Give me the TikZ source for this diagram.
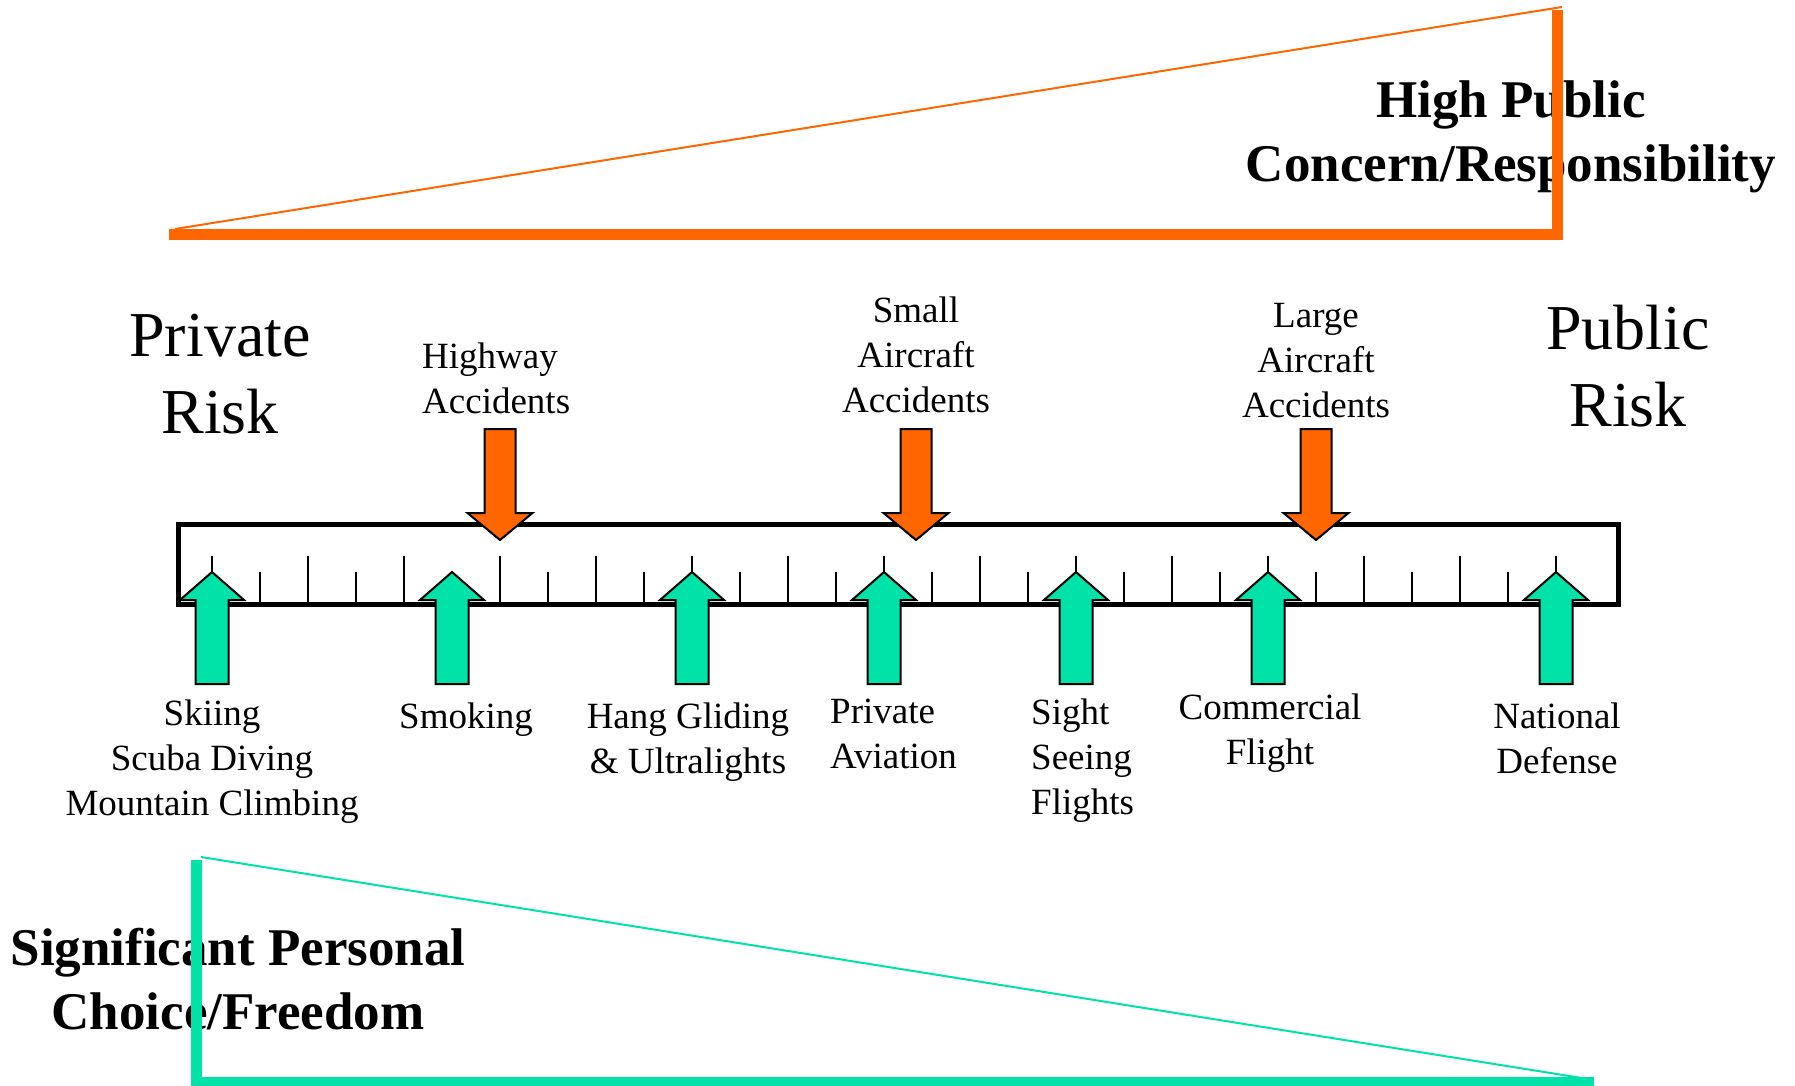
\documentclass[tikz,border=0pt]{standalone}
\usepackage{fontspec}
\setmainfont{Liberation Serif}
\usepackage{xcolor}
\usepackage{tikz}
\usetikzlibrary{positioning}
\definecolor{riskorange}{RGB}{255,102,0}
\definecolor{riskteal}{RGB}{0,226,168}

\begin{document}
\begin{tikzpicture}[x=1pt,y=-1pt,
  lbl/.style={inner sep=0pt,align=#1,font=\fontsize{37}{45}\selectfont}, lbl/.default=center,
  big/.style={inner sep=0pt,align=center,font=\fontsize{64}{77}\selectfont},
  note/.style={inner sep=0pt,align=center,font=\fontsize{53}{64}\selectfont\bfseries},
  tealarrow/.style={fill=riskteal,draw=black,line width=2pt},
  orangearrow/.style={fill=riskorange,draw=black,line width=2pt}]
\useasboundingbox (0,0) rectangle (1795,1085);
\node[note] (concern) at (1511,137) {High Public\\Concern/Responsibility};
\node[note] (choice) at (238,979) {Significant Personal\\Choice/Freedom};
\draw[riskorange,line width=11pt] (169,234) -| (1557,10);
\draw[riskorange,line width=2pt] (175,229) -- (1562,7);
\draw[riskteal,line width=11pt] (196,860) |- (1594,1082);
\draw[riskteal,line width=2pt] (201,857) -- (1588,1079);
\node[big] (priv) at (220,374) {Private\\Risk};
\node[big] (pub) at (1628,366) {Public\\Risk};
\draw[line width=5pt] (178,524) rectangle (1618,604);
\foreach \k in {0,2,...,28} \draw[line width=1.8pt] (212+48*\k,556) -- (212+48*\k,604);
\foreach \k in {1,3,...,27} \draw[line width=1.8pt] (212+48*\k,572) -- (212+48*\k,604);
\foreach \x in {212,452,692,884,1076,1268,1556}
  \filldraw[tealarrow] (\x,572) -- ++(32,28) -- ++(-15.5,0) -- ++(0,84) -- ++(-33,0) -- ++(0,-84) -- ++(-15.5,0) -- cycle;
\foreach \x in {500,916,1316}
  \filldraw[orangearrow] (\x,540) -- ++(32.5,-27) -- ++(-17,0) -- ++(0,-84) -- ++(-31,0) -- ++(0,84) -- ++(-17,0) -- cycle;
\node[lbl=left,anchor=west] (hwy) at (422,378) {Highway\\Accidents};
\node[lbl] (small) at (916,355) {Small\\Aircraft\\Accidents};
\node[lbl] (large) at (1316,361) {Large\\Aircraft\\Accidents};
\node[lbl] (ski) at (212,762) {Skiing\\Scuba Diving\\Mountain Climbing};
\node[lbl] (smoke) at (466,720) {Smoking};
\node[lbl] (hang) at (688,742) {Hang Gliding\\\& Ultralights};
\node[lbl=left,anchor=west] (pav) at (830,734) {Private\\Aviation};
\node[lbl=left,anchor=west] (sight) at (1031,761) {Sight\\Seeing\\Flights};
\node[lbl] (comm) at (1270,733) {Commercial\\Flight};
\node[lbl] (natl) at (1557,738) {National\\Defense};
\end{tikzpicture}
\end{document}
